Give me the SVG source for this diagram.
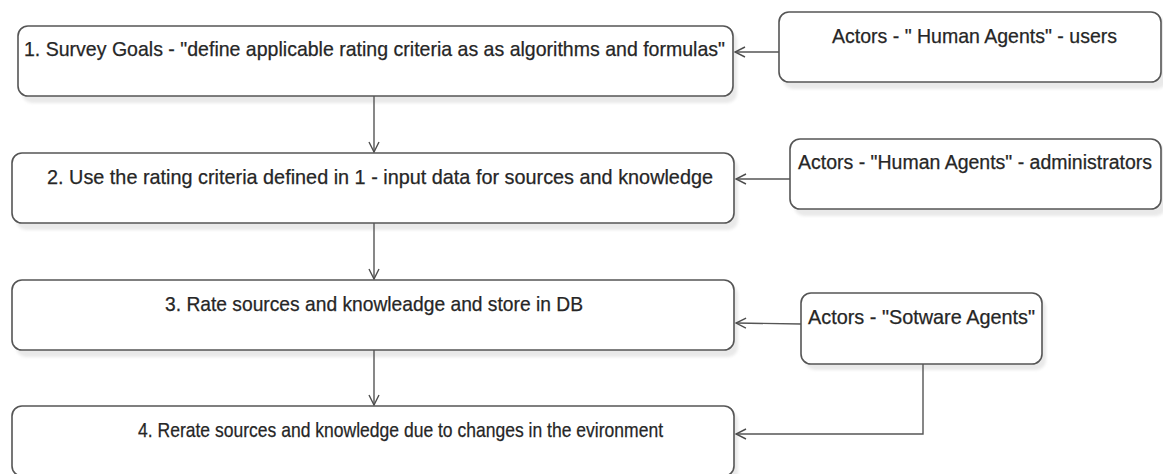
<svg xmlns="http://www.w3.org/2000/svg" width="1163" height="474" viewBox="0 0 1163 474">
  <defs>
    <filter id="soft" x="-5%" y="-20%" width="110%" height="140%">
      <feGaussianBlur stdDeviation="1.5"/>
    </filter>
    <marker id="open" viewBox="0 0 12 12" refX="11" refY="6" markerWidth="12" markerHeight="12" markerUnits="userSpaceOnUse" orient="auto">
      <path d="M1,1 L11,6 L1,11" fill="none" stroke="#4d4d4d" stroke-width="1.4"/>
    </marker>
  </defs>
  <style>
    .shadow { fill: #e9e9e9; filter: url(#soft); }
    .box { fill: #ffffff; stroke: #555555; stroke-width: 1.6; }
    .lbl { font-family: "Liberation Sans Narrow", "Liberation Sans", Arial, sans-serif; font-size: 21px; fill: #262626; stroke: #262626; stroke-width: 0.25; }
    .edge { fill: none; stroke: #555555; stroke-width: 1.4; marker-end: url(#open); }
  </style>
  <rect width="1163" height="474" fill="#ffffff"/>

  <g id="step1">
    <rect class="shadow" x="22" y="31" width="715" height="72" rx="10"/>
    <rect class="box" x="18" y="26" width="715" height="70" rx="10"/>
    <text class="lbl" x="24" y="56" textLength="701" lengthAdjust="spacingAndGlyphs">1. Survey Goals - "define applicable rating criteria as as algorithms and formulas"</text>
  </g>

  <g id="step2">
    <rect class="shadow" x="16" y="158" width="722" height="72" rx="10"/>
    <rect class="box" x="12" y="153" width="722" height="70" rx="10"/>
    <text class="lbl" x="47" y="184" textLength="666" lengthAdjust="spacingAndGlyphs">2. Use the rating criteria defined in 1 - input data for sources and knowledge</text>
  </g>

  <g id="step3">
    <rect class="shadow" x="16" y="285" width="722" height="72" rx="10"/>
    <rect class="box" x="12" y="280" width="722" height="70" rx="10"/>
    <text class="lbl" x="165" y="311" textLength="418" lengthAdjust="spacingAndGlyphs">3. Rate sources and knowleadge and store in DB</text>
  </g>

  <g id="step4">
    <rect class="shadow" x="16" y="411" width="722" height="72" rx="10"/>
    <rect class="box" x="12" y="406" width="722" height="70" rx="10"/>
    <text class="lbl" x="138" y="437" textLength="525" lengthAdjust="spacingAndGlyphs">4. Rerate sources and knowledge due to changes in the evironment</text>
  </g>

  <g id="actor-users">
    <rect class="shadow" x="783" y="17" width="384" height="72" rx="10"/>
    <rect class="box" x="779" y="12" width="382" height="70" rx="10"/>
    <text class="lbl" x="832" y="43" textLength="285" lengthAdjust="spacingAndGlyphs">Actors - " Human Agents" - users</text>
  </g>

  <g id="actor-admins">
    <rect class="shadow" x="794" y="144" width="372" height="72" rx="10"/>
    <rect class="box" x="790" y="139" width="371" height="70" rx="10"/>
    <text class="lbl" x="975" y="169" text-anchor="middle" style="font-size:19.5px" textLength="354" lengthAdjust="spacingAndGlyphs">Actors - "Human Agents" - administrators</text>
  </g>

  <g id="actor-software">
    <rect class="shadow" x="805" y="298" width="241" height="72" rx="10"/>
    <rect class="box" x="801" y="293" width="241" height="71" rx="10"/>
    <text class="lbl" x="808" y="324" textLength="227" lengthAdjust="spacingAndGlyphs">Actors - "Sotware Agents"</text>
  </g>

  <g id="connectors">
    <path class="edge" d="M374,96 L374,152"/>
    <path class="edge" d="M374,223 L374,279"/>
    <path class="edge" d="M374,350 L374,405"/>
    <path class="edge" d="M779,52 L735,52"/>
    <path class="edge" d="M790,179 L736,179"/>
    <path class="edge" d="M801,324 L736,323"/>
    <path class="edge" d="M923,364 L923,434 L736,434"/>
  </g>
</svg>
